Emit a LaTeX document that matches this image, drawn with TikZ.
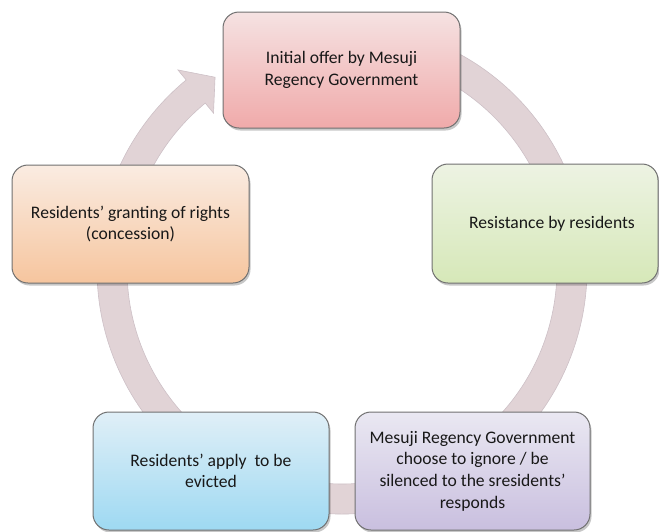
\documentclass[tikz,border=0pt]{standalone}
\usepackage{fontspec}
\setmainfont{Carlito}
\usetikzlibrary{shadows,calc}

% ring and box colours
\definecolor{ringfill}{RGB}{225,211,214}
\definecolor{ringedge}{RGB}{205,192,198}
\definecolor{boxedge}{RGB}{112,112,112}
\definecolor{txt}{RGB}{24,24,24}
\definecolor{redtop}{RGB}{245,226,226}
\definecolor{redbot}{RGB}{240,170,170}
\definecolor{greentop}{RGB}{237,243,227}
\definecolor{greenbot}{RGB}{214,232,184}
\definecolor{orangetop}{RGB}{250,236,226}
\definecolor{orangebot}{RGB}{246,197,158}
\definecolor{bluetop}{RGB}{224,239,247}
\definecolor{bluebot}{RGB}{158,217,242}
\definecolor{purpletop}{RGB}{234,232,242}
\definecolor{purplebot}{RGB}{201,191,223}

\tikzset{
  stagebox/.style={
    draw=boxedge, line width=1pt, rounded corners=16pt,
    align=center, text=txt, inner sep=6pt,
    font=\fontsize{17.6}{21.6}\selectfont,
    drop shadow={shadow xshift=1.5pt, shadow yshift=-2.5pt, fill=black, opacity=0.22}
  }
}

\begin{document}
\begin{tikzpicture}[x=1pt,y=1pt]
  \useasboundingbox (0,0) rectangle (659,-531);

  % centre of the cycle ring
  \coordinate (C) at (342,-269);

  % circular arrow running clockwise behind the boxes
  \filldraw[fill=ringfill, draw=ringedge, line width=0.6pt]
    ($(C)+(117:245)$) arc[start angle=117, end angle=-230.5, radius=245]
    -- ($(C)+(-230.5:258)$)
    -- ($(C)+(-236.5:230)$)
    -- ($(C)+(-230.5:202)$)
    -- ($(C)+(-230.5:215)$)
    arc[start angle=-230.5, end angle=117, radius=215]
    -- cycle;

  % the five stages
  \node[stagebox, top color=redtop, bottom color=redbot,
        minimum width=237pt, minimum height=116pt] (offer) at (341.5,-70)
    {Initial offer by Mesuji\\Regency Government};

  \node[stagebox, top color=greentop, bottom color=greenbot,
        minimum width=226pt, minimum height=119pt] (resist) at (545,-223.5)
    {\hspace*{14pt}Resistance by residents};

  \node[stagebox, top color=purpletop, bottom color=purplebot,
        minimum width=235pt, minimum height=118pt] (ignore) at (472.5,-471)
    {Mesuji Regency Government\\choose to ignore / be\\silenced to the sresidents’\\responds};

  \node[stagebox, top color=bluetop, bottom color=bluebot,
        minimum width=236pt, minimum height=118pt] (evict) at (211,-471)
    {Residents’ apply\ \ to be\\evicted};

  \node[stagebox, top color=orangetop, bottom color=orangebot,
        minimum width=237pt, minimum height=118pt] (grant) at (130.5,-224)
    {Residents’ granting of rights\\(concession)};
\end{tikzpicture}
\end{document}
